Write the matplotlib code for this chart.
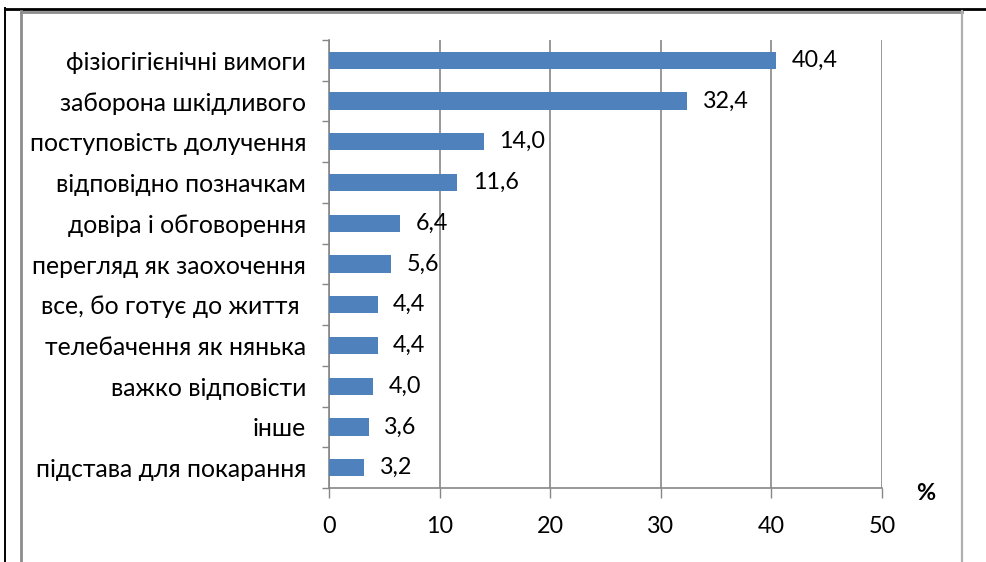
import numpy as np
import matplotlib.pyplot as plt
from matplotlib.lines import Line2D

plt.rcParams['font.family'] = ['Lato', 'DejaVu Sans']

categories = ['фізіогігієнічні вимоги', 'заборона шкідливого', 'поступовість долучення',
              'відповідно позначкам', 'довіра і обговорення', 'перегляд як заохочення',
              'все, бо готує до життя ', 'телебачення як нянька', 'важко відповісти',
              'інше', 'підстава для покарання']
values = [40.4, 32.4, 14.0, 11.6, 6.4, 5.6, 4.4, 4.4, 4.0, 3.6, 3.2]
xticks = [0, 10, 20, 30, 40, 50]

W, H = 987, 562
fig = plt.figure(figsize=(W / 100, H / 100), dpi=100)
ax = fig.add_axes([329 / W, (H - 488) / H, (882 - 329) / W, (488 - 40) / H])

y = np.arange(len(categories))
ax.barh(y, values, height=0.425, color='#4F81BD', zorder=3)
for yi, v in zip(y, values):
    ax.text(v + 1.4, yi, '{:.1f}'.format(v).replace('.', ','), va='center', ha='left',
            fontsize=16.8, color='black', zorder=4)

ax.set_xlim(0, 50)
ax.set_ylim(len(categories) - 0.5, -0.5)
ax.set_xticks(xticks)
ax.set_xticklabels([str(t) for t in xticks], fontsize=16.8)
ax.set_yticks(y)
ax.set_yticklabels(categories, fontsize=17.8)
ax.set_yticks(np.arange(-0.5, len(categories)), minor=True)

ax.tick_params(axis='y', which='major', length=0, pad=16.5)
ax.tick_params(axis='y', which='minor', length=5, width=1, color='#868686', direction='out')
ax.tick_params(axis='x', which='major', length=7, width=1, color='#868686', direction='out', pad=13)

ax.grid(axis='x', color='#868686', linewidth=1.2, zorder=0)
for s in ['top', 'right']:
    ax.spines[s].set_visible(False)
for s in ['left', 'bottom']:
    ax.spines[s].set_color('#868686')
    ax.spines[s].set_linewidth(1.2)

fig.text(926 / W, 1 - 493 / H, '%', fontsize=16.8, fontweight='bold', ha='center', va='center')

# frame lines around the chart
def px_line(x0, y0, x1, y1, color, lw):
    fig.add_artist(Line2D([x0 / W, x1 / W], [1 - y0 / H, 1 - y1 / H],
                          transform=fig.transFigure, color=color, linewidth=lw))

px_line(5, 9, W, 9, 'black', 2.0)
px_line(5.5, 8, 5.5, H, 'black', 1.4)
px_line(21, 12, 962, 12, '#8c8c8c', 2.0)
px_line(21, 11, 21, H, '#8c8c8c', 2.0)
px_line(962, 11, 962, H, '#b0b0b0', 1.6)

plt.savefig('out.png', dpi=100)
